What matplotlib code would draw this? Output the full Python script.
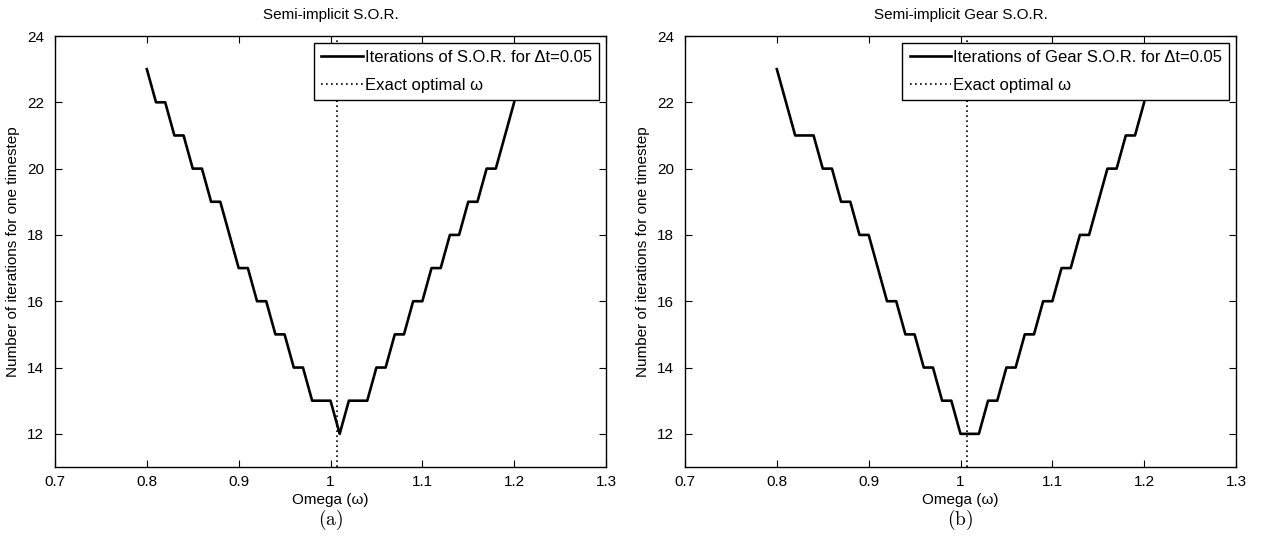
import matplotlib
matplotlib.use("Agg")
import matplotlib.pyplot as plt

plt.rcParams['font.family'] = ['Liberation Sans Narrow', 'Liberation Sans', 'DejaVu Sans']
plt.rcParams['mathtext.fontset'] = 'cm'

# omega samples (same for both panels)
omega = [0.80, 0.81, 0.82, 0.83, 0.84, 0.85, 0.86, 0.87, 0.88, 0.89,
         0.90, 0.91, 0.92, 0.93, 0.94, 0.95, 0.96, 0.97, 0.98, 0.99,
         1.00, 1.01, 1.02, 1.03, 1.04, 1.05, 1.06, 1.07, 1.08, 1.09,
         1.10, 1.11, 1.12, 1.13, 1.14, 1.15, 1.16, 1.17, 1.18, 1.19, 1.20]

iters_sor = [23, 22, 22, 21, 21, 20, 20, 19, 19, 18,
             17, 17, 16, 16, 15, 15, 14, 14, 13, 13,
             13, 12, 13, 13, 13, 14, 14, 15, 15, 16,
             16, 17, 17, 18, 18, 19, 19, 20, 20, 21, 22]

iters_gear = [23, 22, 21, 21, 21, 20, 20, 19, 19, 18,
              18, 17, 16, 16, 15, 15, 14, 14, 13, 13,
              12, 12, 12, 13, 13, 14, 14, 15, 15, 16,
              16, 17, 17, 18, 18, 19, 20, 20, 21, 21, 22]

omega_opt = 1.007

titles = ['Semi-implicit S.O.R.', 'Semi-implicit Gear S.O.R.']
labels = ['Iterations of S.O.R. for \u0394t=0.05', 'Iterations of Gear S.O.R. for \u0394t=0.05']
panels = ['(a)', '(b)']
xticks = [0.7, 0.8, 0.9, 1.0, 1.1, 1.2, 1.3]
xticklabels = ['0.7', '0.8', '0.9', '1', '1.1', '1.2', '1.3']
yticks = [12, 14, 16, 18, 20, 22, 24]

fig = plt.figure(figsize=(12.61, 5.55), dpi=100)
W, H = 1261, 555
ax_left = [55, 685]
ax_w = 551
ax_top, ax_bot = 36, 467

for i, series in enumerate([iters_sor, iters_gear]):
    ax = fig.add_axes([ax_left[i] / W, 1 - ax_bot / H, ax_w / W, (ax_bot - ax_top) / H])
    ax.plot(omega, series, color='black', lw=1.9, label=labels[i])
    ax.axvline(omega_opt, color='black', lw=1.2, ls=(0, (1, 2.0)), label='Exact optimal \u03c9')
    ax.set_xlim(0.7, 1.3)
    ax.set_ylim(11, 24)
    ax.set_xticks(xticks)
    ax.set_xticklabels(xticklabels)
    ax.set_yticks(yticks)
    ax.tick_params(direction='in', length=5, width=0.8, top=True, right=True,
                   labelsize=11, pad=6)
    ax.tick_params(axis='y', pad=8)
    for s in ax.spines.values():
        s.set_linewidth(1.0)
    ax.set_title(titles[i], fontsize=11, pad=12)
    ax.set_xlabel('Omega (\u03c9)', fontsize=11, labelpad=3)
    ax.set_ylabel('Number of iterations for one timestep', fontsize=11, labelpad=5)
    leg = ax.legend(loc='upper right', fontsize=12, handlelength=2.5, handletextpad=0.1,
                    borderpad=0.45, labelspacing=0.75, borderaxespad=0.4,
                    fancybox=False, framealpha=1, edgecolor='black')
    leg.get_frame().set_linewidth(1.0)
    fig.text((ax_left[i] + ax_w / 2) / W, 1 - 520 / H, r'$\mathrm{' + panels[i] + '}$',
             ha='center', va='center', fontsize=14)

fig.savefig('out.png', dpi=100)
